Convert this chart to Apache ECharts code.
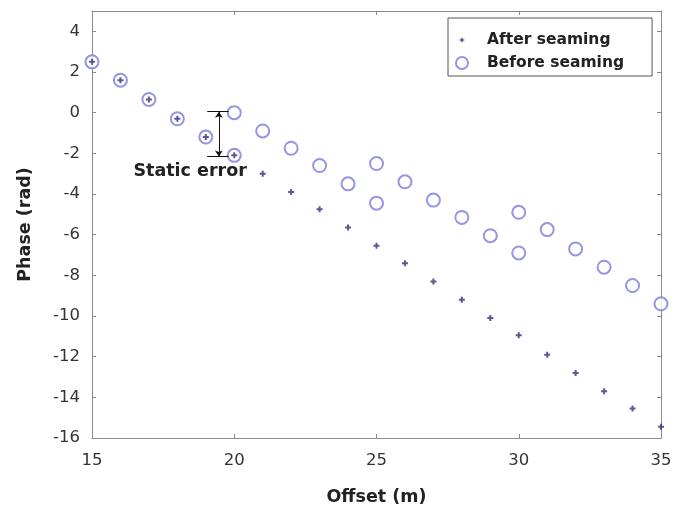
<!DOCTYPE html>
<html>
<head>
<meta charset="utf-8">
<script src="https://cdn.jsdelivr.net/npm/echarts@6/dist/echarts.min.js"></script>
<style>
  html, body { margin: 0; padding: 0; background: #fff; }
  #chart { width: 680px; height: 511px; }
</style>
</head>
<body>
<div id="chart"></div>
<script>
// Phase versus offset, before and after seaming
const offsets = [15, 16, 17, 18, 19, 20, 21, 22, 23, 24, 25, 26, 27, 28, 29, 30, 31, 32, 33, 34, 35];
const phaseAfter = [2.5, 1.6, 0.65, -0.3, -1.2, -2.1, -3.0, -3.9, -4.75, -5.65, -6.55, -7.4, -8.3, -9.2, -10.1, -10.95, -11.9, -12.8, -13.7, -14.55, -15.45];

const offsetsBefore = [15, 16, 17, 18, 19, 20, 20, 21, 22, 23, 24, 25, 25, 26, 27, 28, 29, 30, 30, 31, 32, 33, 34, 35];
const phaseBefore = [2.5, 1.6, 0.65, -0.3, -1.2, -2.1, 0.0, -0.9, -1.75, -2.6, -3.5, -4.45, -2.5, -3.4, -4.3, -5.15, -6.05, -6.9, -4.9, -5.75, -6.7, -7.6, -8.5, -9.4];

const xTicks = [15, 20, 25, 30, 35];
const yTicks = [-16, -14, -12, -10, -8, -6, -4, -2, 0, 2, 4];

// Static error marker at the first seam (offset 20)
const errorX = 19.46;
const errorTop = 0.05;
const errorBottom = -2.15;
const errorCap = [19.05, 19.8];
const errorLabelPos = [18.45, -2.9];

const font = "'DejaVu Sans', 'Liberation Sans', Arial, sans-serif";
const axisGray = '#8a8a8a';
const textColor = '#222';

// small plus glyph, padded inside a 16x16 box so it stays small in the legend too
const plusSymbol = 'path://M0,0M16,16M7,5H9V7H11V9H9V11H7V9H5V7H7Z';

const chart = echarts.init(document.getElementById('chart'), null, { renderer: 'canvas' });

const baseTick = { show: true, inside: true, length: 4, lineStyle: { color: axisGray } };
const baseLine = { show: true, onZero: false, lineStyle: { color: axisGray, width: 1 } };

chart.setOption({
  animation: false,
  backgroundColor: '#fff',
  grid: { left: 92, right: 19, top: 11, bottom: 72 },
  legend: {
    data: ['After seaming', 'Before seaming'],
    orient: 'vertical',
    left: 448,
    top: 18,
    padding: [14, 28, 5, 7],
    itemWidth: 40,
    itemHeight: 12,
    itemGap: 7,
    borderColor: '#555',
    borderWidth: 1,
    backgroundColor: '#fff',
    textStyle: { fontFamily: font, fontWeight: 'bold', fontSize: 15.5, color: textColor }
  },
  xAxis: [{
    type: 'value',
    min: 15, max: 35, interval: 5,
    name: 'Offset (m)',
    nameLocation: 'middle',
    nameGap: 50,
    nameTextStyle: { fontFamily: font, fontWeight: 'bold', fontSize: 17.5, color: textColor },
    axisLine: baseLine,
    axisTick: baseTick,
    splitLine: { show: false },
    axisLabel: {
      fontFamily: font, fontSize: 16.5, color: '#333', margin: 14,
      formatter: v => (xTicks.indexOf(v) >= 0 ? String(v) : '')
    }
  }, {
    type: 'value', position: 'top',
    min: 15, max: 35, interval: 5,
    axisLine: baseLine,
    axisTick: baseTick,
    axisLabel: { show: false },
    splitLine: { show: false }
  }],
  yAxis: [{
    type: 'value',
    min: -16, max: 5, interval: 2,
    name: 'Phase (rad)',
    nameLocation: 'middle',
    nameGap: 58,
    nameRotate: 90,
    nameTextStyle: { fontFamily: font, fontWeight: 'bold', fontSize: 17.5, color: textColor },
    axisLine: baseLine,
    axisTick: baseTick,
    splitLine: { show: false },
    axisLabel: {
      fontFamily: font, fontSize: 16.5, color: '#333', margin: 12,
      showMaxLabel: false,
      formatter: v => (yTicks.indexOf(v) >= 0 ? String(v) : '')
    }
  }, {
    type: 'value', position: 'right',
    min: -16, max: 5, interval: 2,
    axisLine: baseLine,
    axisTick: baseTick,
    axisLabel: { show: false },
    splitLine: { show: false }
  }],
  series: [
    {
      name: 'Before seaming',
      type: 'scatter',
      symbol: 'emptyCircle',
      symbolSize: 13,
      itemStyle: { color: '#7b7bdc', borderWidth: 1.1 },
      data: offsetsBefore.map((x, i) => [x, phaseBefore[i]]),
      z: 2
    },
    {
      name: 'After seaming',
      type: 'scatter',
      symbol: plusSymbol,
      symbolSize: 16,
      itemStyle: { color: '#30307c' },
      data: offsets.map((x, i) => [x, phaseAfter[i]]),
      z: 3
    },
    {
      name: 'Static error',
      type: 'scatter',
      data: [],
      silent: true,
      markLine: {
        silent: true,
        animation: false,
        lineStyle: { color: '#111', width: 1, type: 'solid' },
        label: { show: false },
        data: [
          [
            { coord: [errorX, errorTop], symbol: 'arrow', symbolSize: 6 },
            { coord: [errorX, errorBottom], symbol: 'arrow', symbolSize: 6 }
          ],
          [
            { coord: [errorCap[0], errorTop], symbol: 'none' },
            { coord: [errorCap[1], errorTop], symbol: 'none' }
          ],
          [
            { coord: [errorCap[0], errorBottom], symbol: 'none' },
            { coord: [errorCap[1], errorBottom], symbol: 'none' }
          ]
        ]
      },
      markPoint: {
        silent: true,
        symbol: 'circle',
        symbolSize: 0,
        label: {
          show: true,
          formatter: 'Static error',
          fontFamily: font, fontWeight: 'bold', fontSize: 17.5, color: textColor
        },
        data: [{ coord: errorLabelPos }]
      }
    }
  ]
});
</script>
</body>
</html>
